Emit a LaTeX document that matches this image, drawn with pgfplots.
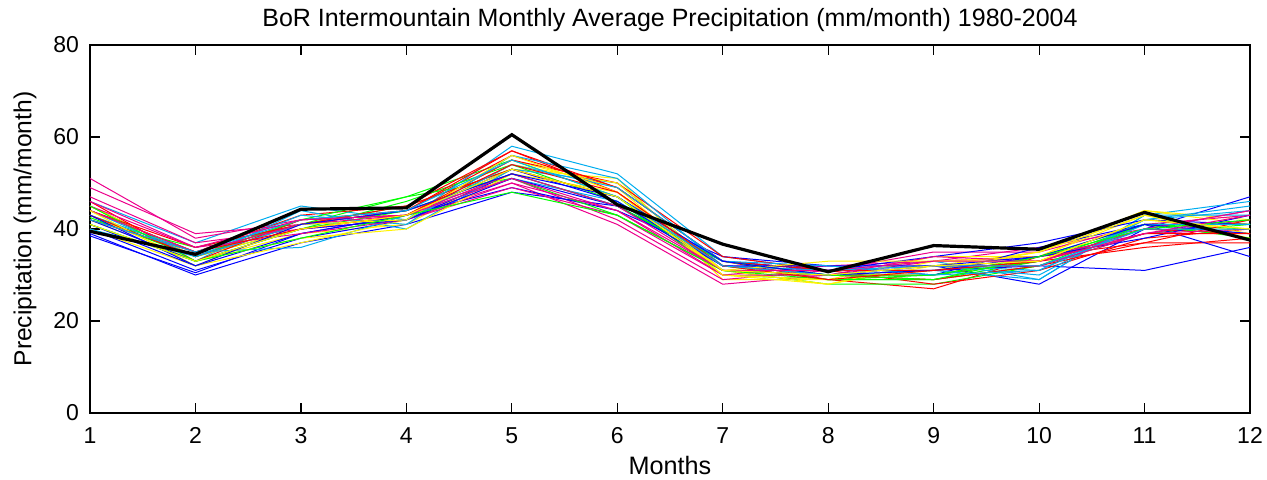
\documentclass[border=0pt]{standalone}
\usepackage{pgfplots}
\pgfplotsset{compat=1.18}
\usepackage{fontspec}
\setmainfont{Liberation Sans}
\begin{document}
\begin{tikzpicture}
\path[use as bounding box] (-45pt,-33pt) rectangle (588.5pt,206.5pt);
\begin{axis}[
  at={(0,0)}, anchor=south west,
  scale only axis, width=580pt, height=184pt,
  xmin=1, xmax=12, ymin=0, ymax=80,
  xtick={1,...,12}, ytick={0,20,40,60,80},
  tick align=inside, major tick length=5pt,
  axis line style={line width=0.7pt},
  every tick/.style={black, line width=0.6pt},
  /pgf/number format/assume math mode=true,
  ticklabel style={font=\fontsize{11.5}{13}\selectfont},
  xticklabel style={anchor=base, yshift=-15pt},
  yticklabel style={anchor=east, xshift=-2pt},
  title={BoR Intermountain Monthly Average Precipitation (mm/month) 1980-2004},
  title style={at={(0.5,1)}, anchor=base, yshift=3.5pt, font=\fontsize{12.5}{14}\selectfont},
  xlabel={Months},
  xlabel style={at={(0.5,0)}, anchor=base, yshift=-30.5pt, font=\fontsize{12.6}{14}\selectfont},
  ylabel={Precipitation (mm/month)},
  ylabel style={at={(axis description cs:-0.056,0.5)}, anchor=center, font=\fontsize{12.3}{14}\selectfont},
  cycle list={{blue},{green},{red},{cyan},{magenta},{yellow}},
  every axis plot/.append style={line width=0.5pt},
]
\addplot coordinates {(1,39)(2,30)(3,37)(4,41)(5,48)(6,45)(7,33)(8,31)(9,32)(10,28)(11,40)(12,47)};
\addplot coordinates {(1,44)(2,35)(3,41)(4,47)(5,55)(6,47)(7,30)(8,29)(9,29)(10,33)(11,41)(12,40)};
\addplot coordinates {(1,45)(2,34)(3,42)(4,44)(5,56)(6,49)(7,33)(8,29)(9,27)(10,34)(11,37)(12,37)};
\addplot coordinates {(1,46)(2,37)(3,45)(4,42)(5,58)(6,52)(7,34)(8,31)(9,33)(10,29)(11,43)(12,46)};
\addplot coordinates {(1,51)(2,38)(3,42)(4,43)(5,50)(6,41)(7,28)(8,30)(9,33)(10,36)(11,40)(12,44)};
\addplot coordinates {(1,42)(2,33)(3,39)(4,41)(5,53)(6,51)(7,29)(8,29)(9,34)(10,34)(11,44)(12,42)};
\addplot coordinates {(1,40)(2,31)(3,38)(4,42)(5,52)(6,45)(7,33)(8,31)(9,31)(10,32)(11,31)(12,36)};
\addplot coordinates {(1,43)(2,34)(3,40)(4,46)(5,54)(6,46)(7,31)(8,28)(9,28)(10,32)(11,39)(12,41)};
\addplot coordinates {(1,44)(2,35)(3,43)(4,45)(5,57)(6,48)(7,32)(8,30)(9,30)(10,33)(11,36)(12,38)};
\addplot coordinates {(1,41)(2,33)(3,44)(4,40)(5,53)(6,50)(7,31)(8,30)(9,32)(10,31)(11,42)(12,44)};
\addplot coordinates {(1,49)(2,39)(3,41)(4,44)(5,51)(6,42)(7,29)(8,31)(9,35)(10,35)(11,41)(12,43)};
\addplot coordinates {(1,45)(2,34)(3,40)(4,43)(5,55)(6,49)(7,30)(8,28)(9,32)(10,35)(11,44)(12,41)};
\addplot coordinates {(1,38.5)(2,30.5)(3,39)(4,43)(5,49)(6,44)(7,34)(8,32)(9,30)(10,36)(11,41)(12,34)};
\addplot coordinates {(1,42)(2,36)(3,41)(4,45)(5,53)(6,47)(7,32)(8,29)(9,30)(10,33)(11,40)(12,39)};
\addplot coordinates {(1,46)(2,33)(3,42)(4,43)(5,55)(6,50)(7,34)(8,31)(9,28)(10,31)(11,38)(12,40)};
\addplot coordinates {(1,43)(2,35)(3,36)(4,43)(5,51)(6,46)(7,33)(8,30)(9,31)(10,29)(11,43)(12,43)};
\addplot coordinates {(1,47)(2,37)(3,40)(4,42)(5,49)(6,43)(7,30)(8,32)(9,33)(10,34)(11,39)(12,42)};
\addplot coordinates {(1,40)(2,32)(3,37)(4,42)(5,54)(6,50)(7,31)(8,28)(9,33)(10,34)(11,43)(12,39)};
\addplot coordinates {(1,41)(2,32)(3,39)(4,43)(5,53)(6,46)(7,32)(8,31)(9,34)(10,37)(11,42)(12,41)};
\addplot coordinates {(1,42.5)(2,34)(3,42)(4,47)(5,51)(6,43)(7,31)(8,29)(9,29)(10,32)(11,41)(12,41)};
\addplot coordinates {(1,44)(2,36)(3,41)(4,44)(5,57)(6,49)(7,33)(8,31)(9,31)(10,33)(11,40)(12,39)};
\addplot coordinates {(1,44)(2,34)(3,43)(4,41)(5,56)(6,51)(7,32)(8,31)(9,32)(10,30)(11,42)(12,45)};
\addplot coordinates {(1,45)(2,36)(3,39)(4,42)(5,50)(6,44)(7,30)(8,30)(9,34)(10,33)(11,40)(12,44)};
\addplot coordinates {(1,43)(2,33)(3,38)(4,40)(5,52)(6,48)(7,30)(8,29)(9,31)(10,35)(11,43)(12,38)};
\addplot coordinates {(1,42)(2,33)(3,40)(4,42)(5,51)(6,45)(7,32)(8,32)(9,32)(10,34)(11,38)(12,43)};
\addplot coordinates {(1,45)(2,33)(3,40)(4,44)(5,52)(6,45)(7,33)(8,30)(9,30)(10,34)(11,41)(12,38)};
\addplot coordinates {(1,43)(2,34)(3,41)(4,45)(5,53)(6,47)(7,32)(8,30)(9,29)(10,32)(11,37)(12,42)};
\addplot coordinates {(1,40)(2,34)(3,41)(4,42)(5,54)(6,49)(7,33)(8,32)(9,30)(10,31)(11,41)(12,41)};
\addplot coordinates {(1,44)(2,35)(3,41)(4,43)(5,52)(6,45)(7,31)(8,30)(9,32)(10,32)(11,39)(12,40)};
\addplot coordinates {(1,44)(2,32)(3,41)(4,42)(5,56)(6,48)(7,31)(8,33)(9,33)(10,33)(11,42)(12,40)};
\addplot coordinates {(1,43)(2,32)(3,41)(4,44)(5,52)(6,47)(7,33)(8,30)(9,31)(10,34)(11,41)(12,39)};
\addplot coordinates {(1,41)(2,33)(3,38)(4,43)(5,48)(6,43)(7,31)(8,30)(9,29)(10,34)(11,40)(12,42)};
\addplot coordinates {(1,42)(2,35)(3,40)(4,43)(5,54)(6,48)(7,32)(8,29)(9,31)(10,33)(11,39)(12,39)};
\addplot coordinates {(1,42)(2,35)(3,42)(4,44)(5,55)(6,47)(7,32)(8,30)(9,32)(10,32)(11,40)(12,40)};
\addplot coordinates {(1,46)(2,36)(3,42)(4,43)(5,51)(6,44)(7,31)(8,31)(9,33)(10,33)(11,39)(12,43)};
\addplot coordinates {(1,41)(2,33)(3,40)(4,43)(5,53)(6,47)(7,31)(8,30)(9,32)(10,33)(11,42)(12,40)};
\addplot[black, line width=1.6pt] coordinates {(1,39.5)(2,34.5)(3,44.3)(4,44.6)(5,60.5)(6,45.3)(7,36.7)(8,30.7)(9,36.4)(10,35.6)(11,43.6)(12,37.6)};
\end{axis}
\end{tikzpicture}
\end{document}
